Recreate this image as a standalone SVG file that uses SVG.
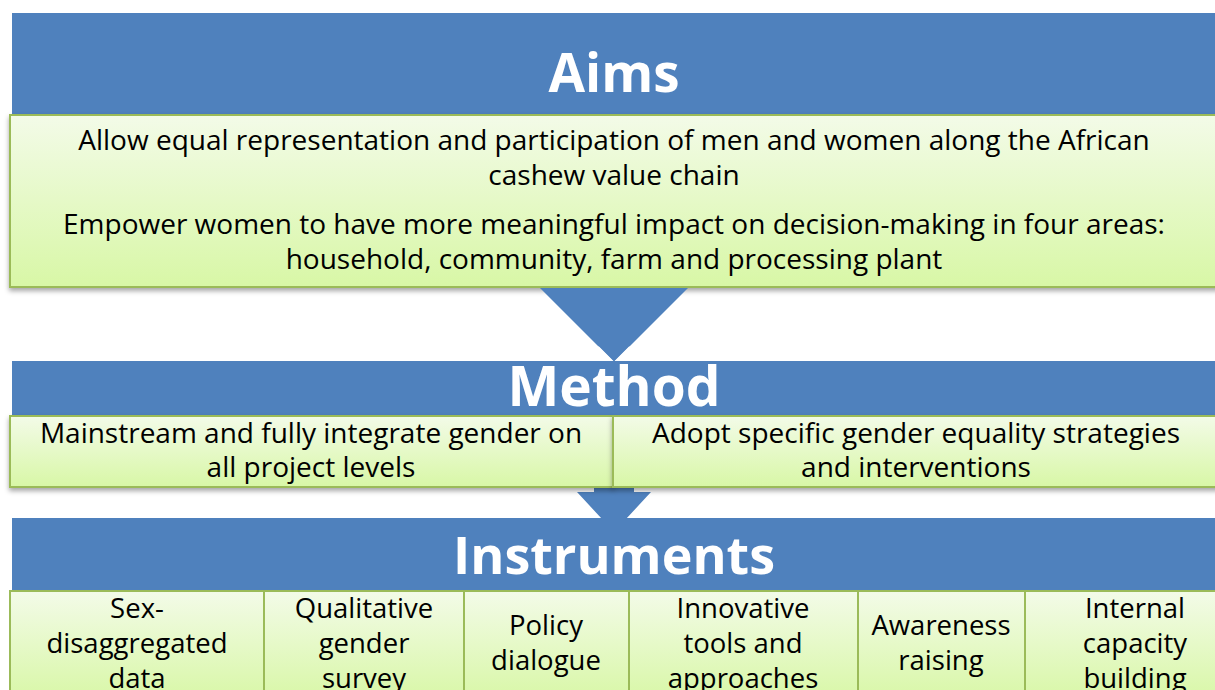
<svg xmlns="http://www.w3.org/2000/svg" width="1215" height="690" viewBox="0 0 1215 690">
<defs>
<linearGradient id="g" x1="0" y1="0" x2="0" y2="1">
<stop offset="0" stop-color="#f3fbe8"/>
<stop offset="1" stop-color="#d8f7a6"/>
</linearGradient>
<filter id="sh" x="-5%" y="-10%" width="110%" height="130%">
<feDropShadow dx="0" dy="3" stdDeviation="2.5" flood-color="#000" flood-opacity="0.35"/>
</filter>
<style>
.band{fill:#4f81bd}
.box{fill:url(#g);stroke:#9bbb59;stroke-width:2}
.arr{fill:#4f81bd}
.h{font-family:"Open Sans","Liberation Sans",sans-serif;font-weight:bold;fill:#fff;text-anchor:middle}
.t{font-family:"Open Sans","Liberation Sans",sans-serif;fill:#000;text-anchor:middle}
</style>
</defs>
<rect width="1215" height="690" fill="#fff"/>
<g id="aims">
<rect class="band" x="12" y="13" width="1210" height="103"/>
<text class="h" x="614" y="92" font-size="53">Aims</text>
<rect class="box" x="10" y="115" width="1210" height="172" filter="url(#sh)"/>
<g class="t" font-size="28">
<text x="614" y="150">Allow equal representation and participation of men and women along the African</text>
<text x="614" y="185">cashew value chain</text>
<text x="614" y="234">Empower women to have more meaningful impact on decision-making in four areas:</text>
<text x="614" y="269">household, community, farm and processing plant</text>
</g>
</g>
<g id="connectors">
<polygon class="arr" points="540,288 688,288 614,362"/>
<polyline points="598,347 614,363 630,347" fill="none" stroke="#fff" stroke-width="2"/>
<polygon class="arr" points="594,487 634,487 634,492 651,492 614,532 577,492 594,492"/>
<polyline points="598,517 614,533 630,517" fill="none" stroke="#fff" stroke-width="2"/>
</g>
<g id="method">
<rect class="band" x="12" y="361" width="1210" height="55"/>
<text class="h" x="614" y="406" font-size="55">Method</text>
</g>
<g id="method-left">
<rect class="box" x="10" y="416" width="603" height="71" filter="url(#sh)"/>
<text class="t" x="311" y="443" font-size="28">Mainstream and fully integrate gender on</text>
<text class="t" x="311" y="477" font-size="28">all project levels</text>
</g>
<g id="method-right">
<rect class="box" x="613" y="416" width="610" height="71" filter="url(#sh)"/>
<text class="t" x="916" y="443" font-size="28">Adopt specific gender equality strategies</text>
<text class="t" x="916" y="477" font-size="28">and interventions</text>
</g>
<g id="instruments">
<rect class="band" x="12" y="518" width="1210" height="73"/>
<text class="h" x="614" y="574" font-size="52">Instruments</text>
</g>
<g class="t" font-size="27.5">
<g id="i1"><rect class="box" x="10" y="591" width="254" height="110"/>
<text x="137" y="618">Sex-</text><text x="137" y="653">disaggregated</text><text x="137" y="688">data</text></g>
<g id="i2"><rect class="box" x="264" y="591" width="200" height="110"/>
<text x="364" y="618">Qualitative</text><text x="364" y="653">gender</text><text x="364" y="688">survey</text></g>
<g id="i3"><rect class="box" x="464" y="591" width="165" height="110"/>
<text x="546" y="635">Policy</text><text x="546" y="670">dialogue</text></g>
<g id="i4"><rect class="box" x="629" y="591" width="229" height="110"/>
<text x="743" y="618">Innovative</text><text x="743" y="653">tools and</text><text x="743" y="688">approaches</text></g>
<g id="i5"><rect class="box" x="858" y="591" width="167" height="110"/>
<text x="941" y="635">Awareness</text><text x="941" y="670">raising</text></g>
<g id="i6"><rect class="box" x="1025" y="591" width="200" height="110"/>
<text x="1135" y="618">Internal</text><text x="1135" y="653">capacity</text><text x="1135" y="688">building</text></g>
</g>
</svg>
